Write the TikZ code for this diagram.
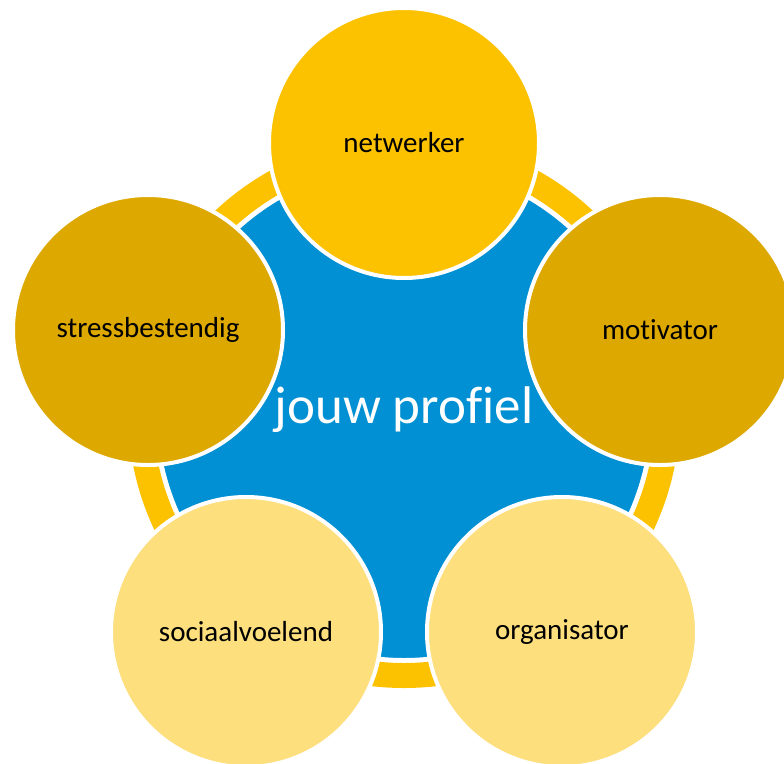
\documentclass[tikz,border=0pt]{standalone}
\usepackage{fontspec}
\setmainfont{Carlito}[Ligatures=NoCommon]
\definecolor{ringyellow}{HTML}{FCC200}
\definecolor{hubblue}{HTML}{0090D3}
\definecolor{goldA}{HTML}{FCC200}
\definecolor{goldB}{HTML}{DDA800}
\definecolor{goldC}{HTML}{FDDF7E}
\begin{document}
\begin{tikzpicture}[x=1pt,y=-1pt,
  petal/.style={circle, draw=white, line width=4pt, minimum size=270pt, inner sep=0pt,
    font=\fontsize{29}{34}\selectfont, text=black}]
\useasboundingbox (0,0) rectangle (784,763);
% ring
\fill[ringyellow, even odd rule] (404,412) circle (276) (404,412) circle (251);
% hub
\node[circle, fill=hubblue, draw=white, line width=4pt, minimum size=496pt, inner sep=0pt] (hub) at (404,412) {};
\node[text=white, font=\fontsize{53}{62}\selectfont] (hubtext) at (404,410) {jouw profiel};
% petals
\node[petal, fill=goldA] (netwerker) at (404,143) {netwerker};
\node[petal, fill=goldB] (motivator) at (660,330) {motivator};
\node[petal, fill=goldC] (organisator) at (562,632) {organisator};
\node[petal, fill=goldC] (sociaal) at (246,632) {sociaalvoelend};
\node[petal, fill=goldB] (stress) at (148,330) {stressbestendig};
\end{tikzpicture}
\end{document}
